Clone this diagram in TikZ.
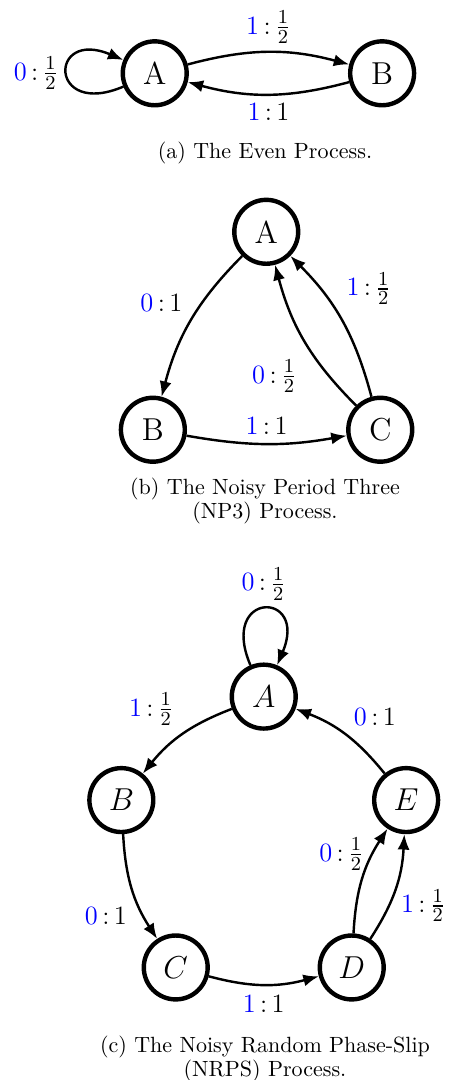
\documentclass[tikz,border=0pt]{standalone}
\usepackage{amsmath, amssymb}
\usepackage{xcolor}
\usepackage{tikz}
\usetikzlibrary{arrows.meta}

\tikzset{
    vertex/.style={draw, circle, line width=2pt, minimum size=1.02cm, inner sep=0pt, font=\Large},
    trans/.style={line width=1.1pt, -{Latex[length=7pt,width=5.5pt]}},
    selfloop/.style={min distance=1.3cm},
    lbl/.style={font=\fontsize{13}{15}\selectfont, inner sep=3.5pt},
    capt/.style={align=center, font=\fontsize{10}{11}\selectfont}
}
\newcommand{\sym}[2]{$\textcolor{blue}{#1}\mkern3mu{:}\mkern3mu#2$}

\begin{document}
\begin{tikzpicture}
\useasboundingbox (0,0) rectangle (7.2,-17.24);
% (a) the even process
\node[vertex] (A1) at (2.47,-1.17) {A};
\node[vertex] (B1) at (6.10,-1.17) {B};
\draw[trans] (A1) to[out=203, in=157, selfloop] node[lbl, left] {\sym{0}{\frac{1}{2}}} (A1);
\draw[trans] (A1) to[bend left=15] node[lbl, above] {\sym{1}{\frac{1}{2}}} (B1);
\draw[trans] (B1) to[bend left=15] node[lbl, below] {\sym{1}{1}} (A1);
\node[capt] (capa) at (4.23,-2.44) {(a) The Even Process.};
% (b) the noisy period three process
\node[vertex] (A2) at (4.25,-3.70) {A};
\node[vertex] (B2) at (2.44,-6.86) {B};
\node[vertex] (C2) at (6.07,-6.86) {C};
\draw[trans] (A2) to[bend right=15] node[lbl, above left] {\sym{0}{1}} (B2);
\draw[trans] (B2) to[bend right=10] node[lbl, above] {\sym{1}{1}} (C2);
\draw[trans] (C2) to[bend left=15] node[lbl, below left, pos=0.45, inner sep=5pt] {\sym{0}{\frac{1}{2}}} (A2);
\draw[trans] (C2) to[bend right=15] node[lbl, above right, pos=0.55] {\sym{1}{\frac{1}{2}}} (A2);
\node[capt] (capb) at (4.23,-8.00) {(b) The Noisy Period Three\\(NP3) Process.};
% (c) the noisy random phase-slip process
\begin{scope}[shift={(4.21,-13.51)}]
\foreach \n/\a in {A/90,B/162,C/234,D/306,E/18}
    \node[vertex] (\n3) at (\a:2.39) {$\n$};
\end{scope}
\draw[trans] (A3) to[out=113, in=67, selfloop] node[lbl, above] {\sym{0}{\frac{1}{2}}} (A3);
\draw[trans] (A3) to[bend right=15] node[lbl, above left] {\sym{1}{\frac{1}{2}}} (B3);
\draw[trans] (B3) to[bend right=15] node[lbl, below left, pos=0.6] {\sym{0}{1}} (C3);
\draw[trans] (C3) to[bend right=15] node[lbl, below, inner sep=4.5pt] {\sym{1}{1}} (D3);
\draw[trans] (D3) to[bend left=15] node[lbl, left, pos=0.75] {\sym{0}{\frac{1}{2}}} (E3);
\draw[trans] (D3) to[bend right=15] node[lbl, right, pos=0.33, inner sep=5pt] {\sym{1}{\frac{1}{2}}} (E3);
\draw[trans] (E3) to[bend right=15] node[lbl, above right] {\sym{0}{1}} (A3);
\node[capt] (capc) at (4.23,-16.91) {(c) The Noisy Random Phase-Slip\\(NRPS) Process.};
\end{tikzpicture}
\end{document}
